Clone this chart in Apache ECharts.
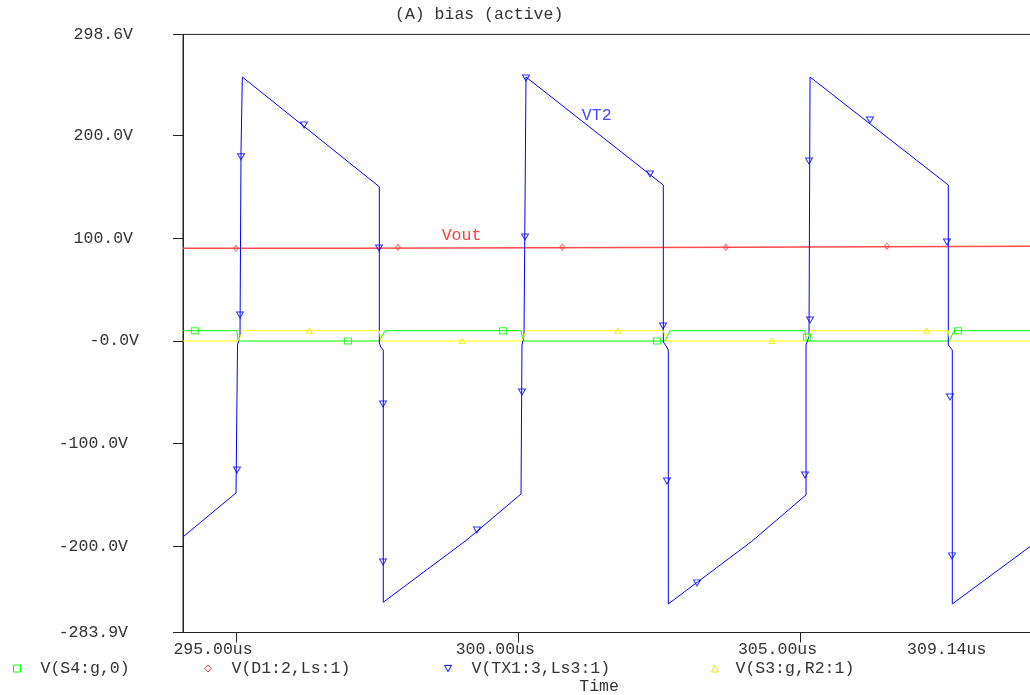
<!DOCTYPE html>
<html>
<head>
<meta charset="utf-8">
<title>(A) bias (active)</title>
<script src="https://cdn.jsdelivr.net/npm/echarts@6.0.0/dist/echarts.min.js"></script>
<style>
  html, body { margin: 0; padding: 0; background: #fff; }
  #chart { width: 1030px; height: 695px; }
</style>
</head>
<body>
<div id="chart"></div>
<script>
// Axis ticks and their labels
const xTickValues = [295, 300, 305, 309.14];
const xTickLabels = ['295.00us', '300.00us', '305.00us', '309.14us'];
const yTickValues = [298.6, 200, 100, 0, -100, -200, -283.9];
const yTickLabels = ['298.6V', '200.0V', '100.0V', '-0.0V', '-100.0V', '-200.0V', '-283.9V'];
const timeRange = [294.061, 309.14];
const voltRange = [-283.9, 298.6];

// Trace names
const traceNames = ['V(S4:g,0)', 'V(D1:2,Ls:1)', 'V(TX1:3,Ls3:1)', 'V(S3:g,R2:1)'];

// V(S4:g,0)  [time us, volts]
const s4Gate = [
  [294.061, 10], [295.012, 10], [295.041, 0], [297.539, 0], [297.640, 10],
  [300.049, 10], [300.084, 0], [302.600, 0], [302.688, 10], [305.080, 10],
  [305.106, 0], [307.636, 0], [307.719, 10], [309.14, 10]
];
const s4Markers = [
  [294.274, 10], [296.984, 0], [299.730, 10], [302.458, 0], [305.115, 3.9], [307.790, 10]
];

// V(D1:2,Ls:1)  (Vout)
const voutTrace = [
  [294.061, 90.3], [297.02, 90.3], [297.02, 91.3], [303.86, 91.3], [303.86, 92.3], [309.14, 92.3]
];
const voutMarkers = [
  [295.0, 90.3], [297.87, 91.3], [300.78, 91.3], [303.68, 91.3], [306.53, 92.3]
];

// V(TX1:3,Ls3:1)  (VT2)
const tx1Trace = [
  [294.061, -190.8], [295.000, -148.0], [295.027, -3.9], [295.071, 4.9], [295.089, 186.0],
  [295.112, 257.1], [297.539, 150.2], [297.539, -1.9], [297.564, -5.8], [297.609, -8.8],
  [297.609, -254.4], [299.087, -193.8], [300.049, -149.0], [300.066, -3.9], [300.102, 4.9],
  [300.137, 257.1], [302.570, 151.9], [302.570, -1.0], [302.630, -5.8], [302.658, -8.8],
  [302.658, -256.1], [304.135, -195.2], [305.098, -149.9], [305.098, -3.9], [305.151, 4.9],
  [305.169, 257.1], [307.618, 151.9], [307.618, -3.9], [307.648, -5.8], [307.689, -8.8],
  [307.689, -256.1], [309.14, -197.2]
];
const tx1Markers = [
  [295.018, -125.6], [295.071, 25.3], [295.089, 179.5], [296.205, 210.3], [297.533, 90.6],
  [297.604, -61.3], [297.604, -215.2], [299.269, -184.0], [300.066, -49.7], [300.120, 101.3],
  [300.137, 256.1], [302.334, 162.6], [302.564, 14.6], [302.635, -136.3], [303.167, -235.6],
  [305.080, -130.5], [305.169, 20.4], [305.151, 175.3], [306.231, 215.2], [307.595, 96.4],
  [307.648, -54.5], [307.684, -209.3]
];

// V(S3:g,R2:1)
const s3Gate = [
  [294.061, 0], [295.041, 0], [295.119, 10], [297.539, 10], [297.569, 0],
  [300.066, 0], [300.137, 10], [302.570, 10], [302.629, 0], [305.098, 0],
  [305.182, 10], [307.618, 10], [307.648, 0], [309.14, 0]
];
const s3Markers = [
  [296.299, 10], [299.004, 0], [301.767, 10], [304.495, 0], [307.236, 10]
];

// Trace annotations
const voutLabelAt = [298.995, 103.1];
const vt2LabelAt = [301.390, 219.1];

const FONT = 'Liberation Mono';
const FS = 16.5;
const TEXT = '#333';
const colors = { green: '#00ff00', red: '#ff4b4b', blue: '#0000ff', yellow: '#ffff00' };
const downTri = 'path://M0,0 L10,0 L5,9 Z';

function lineSeries(name, data, color, width) {
  return {
    name: name, type: 'line', data: data, showSymbol: false, symbol: 'none',
    lineStyle: { color: color, width: width }, itemStyle: { color: color },
    silent: true, z: 2
  };
}
function markerSeries(name, data, color, symbol, size) {
  return {
    name: name, type: 'scatter', data: data, symbol: symbol, symbolSize: size,
    itemStyle: { color: 'rgba(255,255,255,0)', borderColor: color, borderWidth: 1 },
    silent: true, z: 4
  };
}
function legendAt(left, name, color, icon, pad) {
  return {
    left: left, top: 660, padding: 0, itemWidth: 7, itemHeight: 7,
    selectedMode: false,
    data: [{ name: name, icon: icon,
      itemStyle: { color: 'rgba(255,255,255,0)', borderColor: color, borderWidth: 1 } }],
    textStyle: { fontFamily: FONT, fontSize: FS, color: TEXT, padding: [0, 0, 0, pad] }
  };
}

const voutLine = lineSeries(traceNames[1], voutTrace, colors.red, 1.5);
voutLine.markPoint = {
  symbol: 'circle', symbolSize: 1, itemStyle: { color: 'rgba(0,0,0,0)' },
  label: { show: true, position: 'inside', formatter: 'Vout', color: '#ff3c3c', fontFamily: FONT, fontSize: FS },
  data: [{ coord: voutLabelAt }]
};
const tx1Line = lineSeries(traceNames[2], tx1Trace, colors.blue, 1);
tx1Line.markPoint = {
  symbol: 'circle', symbolSize: 1, itemStyle: { color: 'rgba(0,0,0,0)' },
  label: { show: true, position: 'inside', formatter: 'VT2', color: '#4848ff', fontFamily: FONT, fontSize: FS },
  data: [{ coord: vt2LabelAt }]
};

const chart = echarts.init(document.getElementById('chart'), null, { renderer: 'canvas' });
chart.setOption({
  animation: false,
  backgroundColor: '#fff',
  title: {
    text: '(A) bias (active)', left: 395, top: 6, padding: 0,
    textStyle: { fontFamily: FONT, fontSize: FS, fontWeight: 'normal', color: TEXT }
  },
  legend: [
    legendAt(13, traceNames[0], colors.green, 'rect', 15),
    legendAt(204, traceNames[1], '#ff3c3c', 'diamond', 15),
    legendAt(444, traceNames[2], colors.blue, downTri, 15),
    legendAt(711, traceNames[3], '#e8e800', 'triangle', 12)
  ],
  grid: {
    left: 183, top: 34.4, width: 851.2, height: 598.1,
    containLabel: false, outerBoundsMode: 'none',
    show: true, borderColor: '#222', borderWidth: 1, backgroundColor: 'transparent'
  },
  xAxis: {
    type: 'value', min: timeRange[0], max: timeRange[1],
    name: 'Time', nameLocation: 'middle', nameGap: 46,
    nameTextStyle: { fontFamily: FONT, fontSize: FS, color: TEXT, padding: [0, 19, 0, 0] },
    axisLine: { show: true, onZero: false, lineStyle: { color: '#222', width: 1 } },
    axisTick: { show: true, customValues: xTickValues.slice(0, 3), length: 10, lineStyle: { color: '#222' } },
    axisLabel: {
      customValues: xTickValues, margin: 9, color: TEXT, fontFamily: FONT, fontSize: FS,
      formatter: function (v) {
        const i = xTickValues.findIndex(function (t) { return Math.abs(t - v) < 1e-6; });
        const key = i === xTickValues.length - 1 ? 'e' : 'n';
        return '{' + key + '|' + xTickLabels[i] + '}';
      },
      rich: {
        n: { fontFamily: FONT, fontSize: FS, color: TEXT, padding: [0, 46, 0, 0] },
        e: { fontFamily: FONT, fontSize: FS, color: TEXT, padding: [0, 175, 0, 0] }
      }
    },
    splitLine: { show: false }
  },
  yAxis: {
    type: 'value', min: voltRange[0], max: voltRange[1],
    axisLine: { show: true, onZero: false, lineStyle: { color: '#222', width: 1 } },
    axisTick: { show: true, customValues: yTickValues, length: 10, lineStyle: { color: '#222' } },
    axisLabel: {
      customValues: yTickValues, margin: 44, color: TEXT, fontFamily: FONT, fontSize: FS,
      formatter: function (v) {
        const i = yTickValues.findIndex(function (t) { return Math.abs(t - v) < 1e-6; });
        const key = v > 0 ? 'p' : (v < 0 ? 'm' : 'z');
        return '{' + key + '|' + yTickLabels[i] + '}';
      },
      rich: {
        p: { fontFamily: FONT, fontSize: FS, color: TEXT, padding: [0, 6, 0, 0] },
        z: { fontFamily: FONT, fontSize: FS, color: TEXT },
        m: { fontFamily: FONT, fontSize: FS, color: TEXT, padding: [0, 11, 0, 0] }
      }
    },
    splitLine: { show: false }
  },
  series: [
    lineSeries(traceNames[0], s4Gate, colors.green, 1),
    voutLine,
    tx1Line,
    lineSeries(traceNames[3], s3Gate, colors.yellow, 1),
    markerSeries(traceNames[0], s4Markers, colors.green, 'rect', [7, 6]),
    markerSeries(traceNames[1], voutMarkers, colors.red, 'diamond', [5, 6]),
    markerSeries(traceNames[2], tx1Markers, colors.blue, downTri, [7, 6]),
    markerSeries(traceNames[3], s3Markers, '#e8e800', 'triangle', [6, 5])
  ]
});
</script>
</body>
</html>
